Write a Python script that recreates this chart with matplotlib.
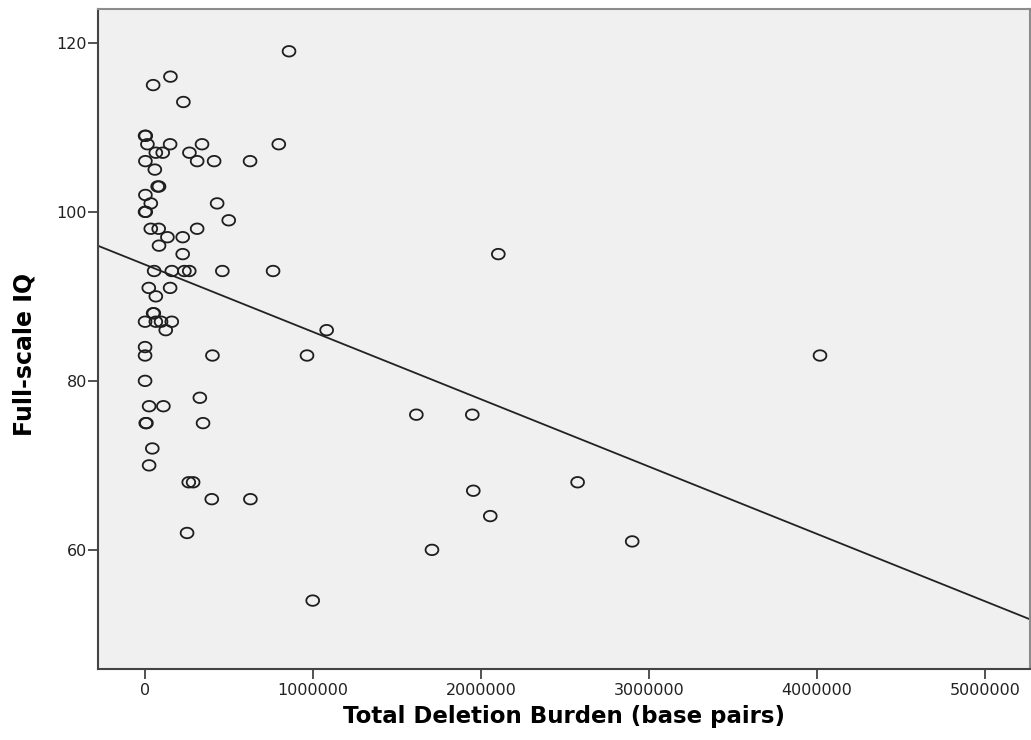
# -*- coding: utf-8 -*-
import numpy as np
import matplotlib.pyplot as plt
from matplotlib.path import Path

# Datos (deleciones en millones de pares de bases, CI total)
deletion_mbp = [0.857, 0.151, 0.048, 0.228, 0.000, 0.004, 0.014, 0.149, 0.339, 0.796,
                0.064, 0.105, 0.264, 0.002, 0.310, 0.411, 0.625, 0.058, 0.075, 0.083,
                0.002, 0.034, 0.429, 0.000, 0.004, 0.498, 0.034, 0.081, 0.310, 0.133,
                0.224, 0.083, 0.224, 2.103, 0.054, 0.159, 0.234, 0.263, 0.460, 0.762,
                0.022, 0.149, 0.064, 0.048, 0.052, 0.000, 0.064, 0.095, 0.159, 0.123,
                1.081, 0.000, 0.000, 0.401, 0.964, 4.018, 0.000, 0.326, 0.024, 0.109,
                0.004, 0.008, 0.345, 1.615, 1.948, 0.043, 0.024, 0.260, 0.286, 0.397,
                0.627, 1.954, 2.055, 0.250, 1.708, 2.900, 2.575, 0.998]
iq = [119, 116, 115, 113, 109, 109, 108, 108, 108, 108,
      107, 107, 107, 106, 106, 106, 106, 105, 103, 103,
      102, 101, 101, 100, 100, 99, 98, 98, 98, 97,
      97, 96, 95, 95, 93, 93, 93, 93, 93, 93,
      91, 91, 90, 88, 88, 87, 87, 87, 87, 86,
      86, 84, 83, 83, 83, 83, 80, 78, 77, 77,
      75, 75, 75, 76, 76, 72, 70, 68, 68, 66,
      66, 67, 64, 62, 60, 61, 68, 54]
x_ticks = [0, 1000000, 2000000, 3000000, 4000000, 5000000]
y_ticks = [60, 80, 100, 120]

x = np.array(deletion_mbp) * 1e6
y = np.array(iq, dtype=float)

# Marcador circular un poco achatado (como SPSS)
t = np.linspace(0, 2 * np.pi, 60)
elipse = Path(np.column_stack([np.cos(t), 0.82 * np.sin(t)]))

fig = plt.figure(figsize=(10.31, 7.40), dpi=100)
ax = fig.add_axes([0.0951, 0.0959, 0.9039, 0.8919])
ax.set_facecolor('#f0f0f0')

ax.scatter(x, y, marker=elipse, s=85, facecolors='none', edgecolors='#1e1e1e', linewidths=1.3, zorder=3)

# Recta de regresion
pendiente, intercepto = np.polyfit(x, y, 1)
xlim = (-280000, 5268000)
xs = np.array(xlim)
ax.plot(xs, intercepto + pendiente * xs, color='#222222', lw=1.3, zorder=2)

ax.set_xlim(*xlim)
ax.set_ylim(45.9, 124.0)
ax.set_xticks(x_ticks, [str(v) for v in x_ticks])
ax.set_yticks(y_ticks, [str(v) for v in y_ticks])
ax.tick_params(axis='both', direction='out', length=7, width=1.3, color='#444444',
               labelsize=11.5, labelcolor='#222222')
ax.tick_params(axis='y', pad=1)
ax.tick_params(axis='x', pad=3)

for lado in ['left', 'bottom']:
    ax.spines[lado].set_color('#444444')
    ax.spines[lado].set_linewidth(1.5)
for lado in ['top', 'right']:
    ax.spines[lado].set_color('#8c8c8c')
    ax.spines[lado].set_linewidth(1.5)

ax.set_xlabel('Total Deletion Burden (base pairs)', fontsize=16.5, fontweight='bold', labelpad=5)
ax.set_ylabel('Full-scale IQ', fontsize=17, fontweight='bold')
ax.yaxis.set_label_coords(-0.066, 0.477)

fig.savefig('out.png', dpi=100)
